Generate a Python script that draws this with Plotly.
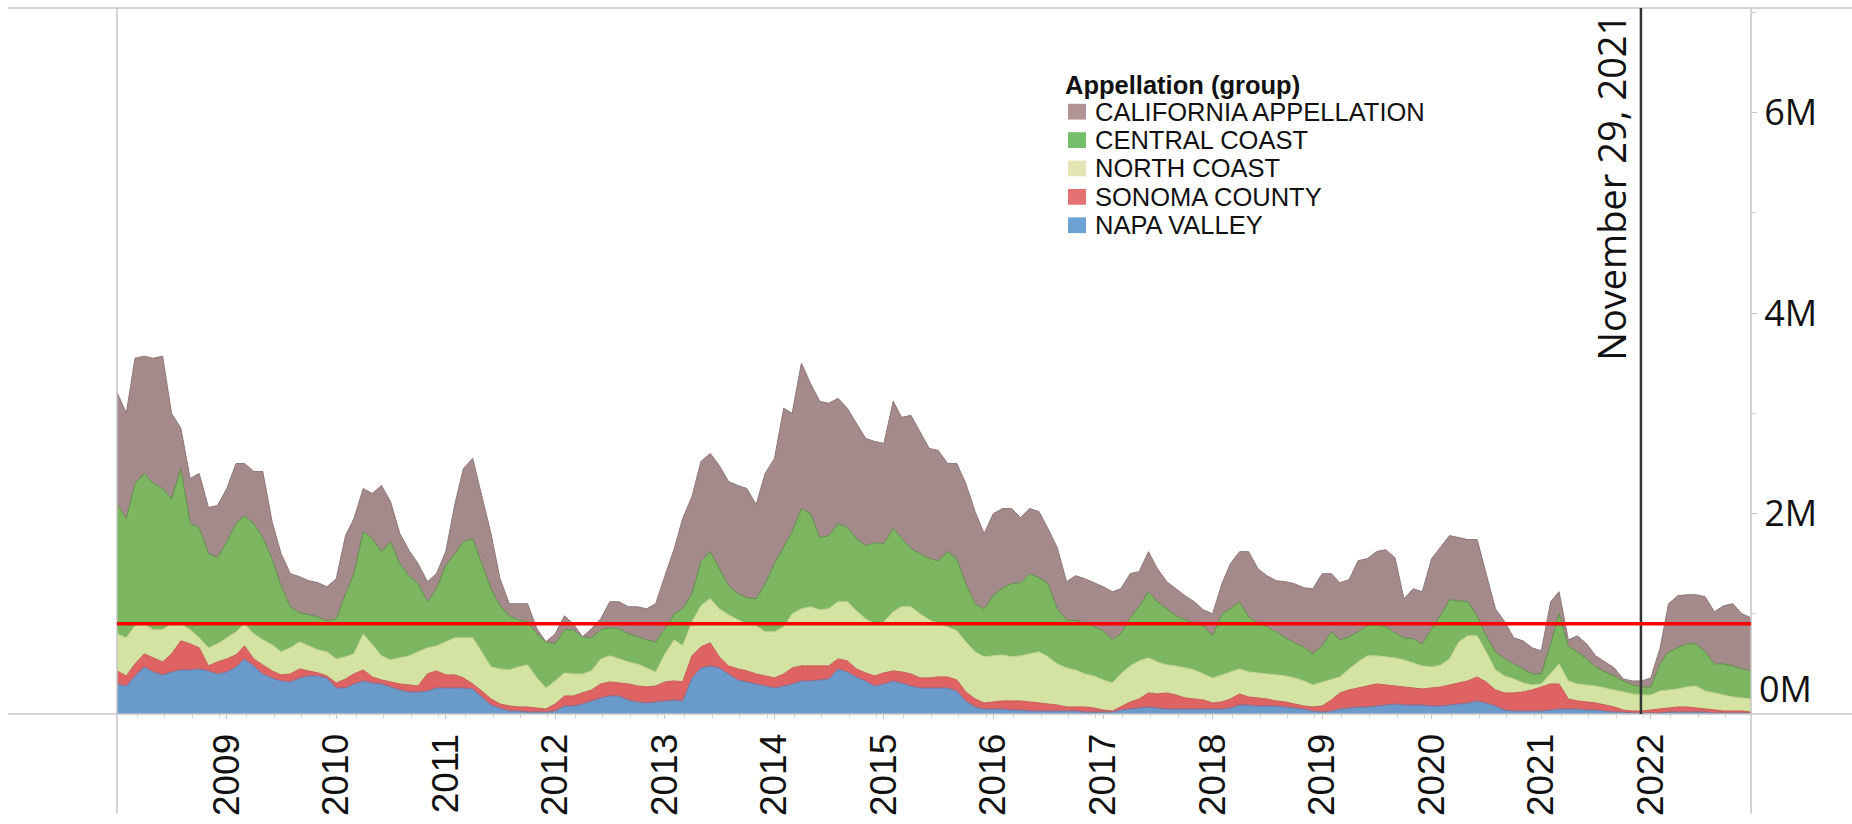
import plotly.graph_objects as go
import pandas as pd

# ---------------- data (millions, monthly, Jan 2008 .. Dec 2022) ----------------
months = pd.date_range("2008-01-01", periods=180, freq="MS")

series_names = ["NAPA VALLEY", "SONOMA COUNTY", "NORTH COAST",
                "CENTRAL COAST", "CALIFORNIA APPELLATION"]

# stacked levels (top edge of each band), bottom -> top
napa_top = [
    0.30, 0.28, 0.38, 0.47, 0.42, 0.39, 0.42, 0.44, 0.44, 0.45,
    0.43, 0.40, 0.42, 0.47, 0.55, 0.48, 0.40, 0.36, 0.33, 0.32,
    0.36, 0.38, 0.38, 0.36, 0.26, 0.26, 0.30, 0.33, 0.31, 0.30,
    0.27, 0.24, 0.22, 0.22, 0.23, 0.26, 0.26, 0.26, 0.26, 0.25,
    0.17, 0.09, 0.06, 0.03, 0.03, 0.02, 0.02, 0.02, 0.03, 0.08,
    0.08, 0.10, 0.13, 0.16, 0.18, 0.18,
    0.14, 0.12, 0.11, 0.12,
    0.13, 0.14, 0.13, 0.36, 0.46, 0.48, 0.46, 0.40, 0.34, 0.32,
    0.30, 0.28, 0.26, 0.28, 0.30, 0.33, 0.33, 0.34, 0.35, 0.45,
    0.42, 0.37, 0.33, 0.28, 0.30, 0.33, 0.31, 0.28, 0.26, 0.26,
    0.26, 0.26, 0.23, 0.13, 0.07, 0.05, 0.05, 0.05, 0.04, 0.04,
    0.03, 0.03, 0.03, 0.03, 0.03, 0.03, 0.02, 0.02, 0.02, 0.02,
    0.04, 0.05, 0.06, 0.07, 0.06, 0.05, 0.05, 0.05, 0.05, 0.05,
    0.05, 0.05, 0.06, 0.09, 0.09, 0.08, 0.08, 0.08, 0.07, 0.06,
    0.05, 0.03, 0.02, 0.03, 0.05, 0.06, 0.07, 0.07, 0.08, 0.09,
    0.10, 0.09, 0.09, 0.09, 0.08, 0.08, 0.09, 0.10, 0.11, 0.13,
    0.11, 0.08, 0.04, 0.03, 0.03, 0.03, 0.03, 0.04, 0.05, 0.05,
    0.05, 0.04, 0.04, 0.03, 0.02, 0.02, 0.01, 0.01, 0.01, 0.01,
    0.02, 0.02, 0.02, 0.02, 0.02, 0.01, 0.01, 0.01, 0.01, 0.01,
]
sonoma_top = [
    0.43, 0.38, 0.50, 0.60, 0.56, 0.52, 0.60, 0.73, 0.70, 0.66,
    0.48, 0.52, 0.55, 0.59, 0.68, 0.55, 0.49, 0.43, 0.39, 0.40,
    0.45, 0.43, 0.41, 0.38, 0.31, 0.35, 0.40, 0.44, 0.37, 0.34,
    0.32, 0.30, 0.29, 0.28, 0.40, 0.43, 0.39, 0.39, 0.36, 0.30,
    0.23, 0.15, 0.10, 0.08, 0.07, 0.07, 0.06, 0.05, 0.10, 0.18,
    0.18, 0.21, 0.24, 0.30, 0.32, 0.31,
    0.30, 0.28, 0.27, 0.28,
    0.32, 0.33, 0.32, 0.58, 0.67, 0.71, 0.57, 0.48, 0.45, 0.43,
    0.40, 0.38, 0.36, 0.40, 0.46, 0.48, 0.48, 0.48, 0.48, 0.55,
    0.53, 0.45, 0.41, 0.38, 0.41, 0.43, 0.42, 0.40, 0.36, 0.36,
    0.37, 0.37, 0.34, 0.22, 0.15, 0.11, 0.12, 0.13, 0.13, 0.13,
    0.12, 0.11, 0.10, 0.09, 0.07, 0.07, 0.07, 0.06, 0.04, 0.03,
    0.07, 0.12, 0.15, 0.21, 0.20, 0.21, 0.19, 0.16, 0.15, 0.14,
    0.11, 0.12, 0.15, 0.20, 0.17, 0.16, 0.15, 0.13, 0.12, 0.10,
    0.08, 0.07, 0.08, 0.14, 0.21, 0.24, 0.26, 0.28, 0.30, 0.29,
    0.28, 0.27, 0.26, 0.25, 0.26, 0.27, 0.29, 0.31, 0.33, 0.37,
    0.32, 0.24, 0.21, 0.21, 0.22, 0.24, 0.27, 0.30, 0.30, 0.15,
    0.13, 0.12, 0.11, 0.09, 0.07, 0.04, 0.03, 0.03, 0.04, 0.05,
    0.06, 0.07, 0.07, 0.06, 0.05, 0.04, 0.03, 0.03, 0.03, 0.02,
]
north_top = [
    0.80, 0.76, 0.88, 0.90, 0.84, 0.84, 0.90, 0.90, 0.84, 0.76,
    0.66, 0.70, 0.76, 0.82, 0.90, 0.80, 0.74, 0.69, 0.62, 0.66,
    0.72, 0.68, 0.64, 0.62, 0.55, 0.57, 0.60, 0.80, 0.69, 0.58,
    0.54, 0.56, 0.58, 0.62, 0.66, 0.68, 0.72, 0.76, 0.76, 0.76,
    0.62, 0.47, 0.45, 0.44, 0.47, 0.49, 0.36, 0.26, 0.33, 0.41,
    0.40, 0.40, 0.43, 0.55, 0.58, 0.55,
    0.52, 0.50, 0.46, 0.42,
    0.60, 0.74, 0.68, 0.92, 1.08, 1.15, 1.05, 0.99, 0.94, 0.90,
    0.88, 0.82, 0.82, 0.87, 1.00, 1.05, 1.07, 1.04, 1.05, 1.12,
    1.12, 1.03, 0.95, 0.90, 0.92, 1.02, 1.07, 1.07, 1.00, 0.94,
    0.90, 0.87, 0.83, 0.72, 0.62, 0.57, 0.58, 0.59, 0.57, 0.58,
    0.60, 0.62, 0.57, 0.50, 0.46, 0.44, 0.40, 0.38, 0.34, 0.31,
    0.40, 0.48, 0.53, 0.56, 0.52, 0.49, 0.48, 0.46, 0.44, 0.40,
    0.36, 0.39, 0.42, 0.45, 0.42, 0.41, 0.40, 0.39, 0.38, 0.36,
    0.33, 0.29, 0.32, 0.35, 0.37, 0.45, 0.52, 0.58, 0.58, 0.57,
    0.56, 0.54, 0.51, 0.48, 0.47, 0.49, 0.55, 0.72, 0.78, 0.78,
    0.62, 0.44, 0.38, 0.35, 0.31, 0.29, 0.30, 0.40, 0.50, 0.33,
    0.30, 0.29, 0.28, 0.26, 0.24, 0.22, 0.20, 0.19, 0.19, 0.23,
    0.24, 0.25, 0.27, 0.28, 0.23, 0.21, 0.19, 0.17, 0.16, 0.15,
]
central_top = [
    2.10, 1.95, 2.30, 2.40, 2.30, 2.25, 2.15, 2.45, 1.90, 1.86,
    1.60, 1.56, 1.72, 1.90, 1.98, 1.90, 1.76, 1.55, 1.28, 1.07,
    1.01, 0.99, 0.97, 0.93, 0.95, 1.20, 1.40, 1.82, 1.75, 1.62,
    1.72, 1.50, 1.38, 1.30, 1.12, 1.25, 1.48, 1.60, 1.72, 1.75,
    1.50, 1.25, 1.08, 0.98, 0.94, 0.92, 0.80, 0.72, 0.70, 0.84,
    0.84, 0.77, 0.76, 0.84, 0.86, 0.85,
    0.80, 0.77, 0.74, 0.72,
    0.85, 1.00, 1.05, 1.20, 1.52, 1.62, 1.45, 1.28, 1.20, 1.16,
    1.15, 1.30, 1.50, 1.67, 1.82, 2.05, 2.00, 1.76, 1.78, 1.90,
    1.86, 1.75, 1.68, 1.71, 1.70, 1.85, 1.75, 1.65, 1.60, 1.55,
    1.53, 1.62, 1.55, 1.30, 1.10, 1.05, 1.18, 1.26, 1.30, 1.31,
    1.40, 1.36, 1.30, 1.05, 0.94, 0.93, 0.91, 0.87, 0.83, 0.74,
    0.80, 0.96, 1.07, 1.22, 1.12, 1.05, 0.98, 0.94, 0.91, 0.88,
    0.78, 1.00, 1.05, 1.12, 0.97, 0.91, 0.87, 0.82, 0.76, 0.71,
    0.67, 0.60, 0.68, 0.82, 0.74, 0.77, 0.82, 0.88, 0.89, 0.87,
    0.81, 0.76, 0.75, 0.70, 0.85, 0.99, 1.14, 1.13, 1.12, 0.98,
    0.78, 0.62, 0.55, 0.50, 0.45, 0.40, 0.40, 0.70, 1.00, 0.68,
    0.62, 0.55, 0.47, 0.42, 0.38, 0.33, 0.29, 0.27, 0.27, 0.50,
    0.62, 0.66, 0.70, 0.70, 0.62, 0.50, 0.50, 0.48, 0.45, 0.43,
]
california_top = [
    3.21, 3.00, 3.55, 3.57, 3.55, 3.57, 3.00, 2.85, 2.35, 2.40,
    2.06, 2.08, 2.25, 2.50, 2.50, 2.42, 2.42, 1.92, 1.60, 1.40,
    1.37, 1.33, 1.31, 1.27, 1.35, 1.78, 1.95, 2.25, 2.20, 2.28,
    2.12, 1.80, 1.63, 1.50, 1.32, 1.40, 1.62, 2.10, 2.45, 2.55,
    2.18, 1.80, 1.35, 1.10, 1.10, 1.10, 0.85, 0.70, 0.80, 0.98,
    0.90, 0.77, 0.85, 0.95, 1.12, 1.12,
    1.07, 1.07, 1.05, 1.10,
    1.38, 1.65, 1.95, 2.17, 2.52, 2.60, 2.48, 2.32, 2.28, 2.25,
    2.09, 2.40, 2.55, 3.05, 3.00, 3.50, 3.30, 3.12, 3.10, 3.15,
    3.05, 2.90, 2.75, 2.72, 2.70, 3.12, 2.96, 2.98, 2.82, 2.65,
    2.63, 2.50, 2.50, 2.30, 2.02, 1.80, 2.00, 2.05, 2.05, 1.96,
    2.05, 2.02, 1.85, 1.66, 1.32, 1.38, 1.35, 1.31, 1.27, 1.22,
    1.25, 1.40, 1.42, 1.62, 1.45, 1.32, 1.25, 1.18, 1.12, 1.04,
    1.00, 1.30, 1.50, 1.62, 1.62, 1.45, 1.38, 1.33, 1.32, 1.30,
    1.26, 1.25, 1.40, 1.40, 1.31, 1.34, 1.53, 1.55, 1.62, 1.64,
    1.56, 1.15, 1.25, 1.22, 1.55, 1.67, 1.78, 1.76, 1.74, 1.74,
    1.40, 1.05, 0.92, 0.76, 0.73, 0.66, 0.63, 1.12, 1.22, 0.74,
    0.78, 0.70, 0.58, 0.52, 0.46, 0.35, 0.33, 0.33, 0.36, 0.66,
    1.10, 1.18, 1.19, 1.19, 1.17, 1.02, 1.08, 1.10, 1.00, 0.96,
]

year_labels = [str(y) for y in range(2009, 2023)]
y_tick_values = [2, 4, 6]
y_tick_text = ["2M", "4M", "6M"]
y_minor_values = [1, 3, 5, 7]
reference_level = 0.9
marker_date = "2021-11-29"
marker_label = "November 29, 2021"
legend_title = "Appellation (group)"

# ---------------- styles ----------------
fill_colors = ["#6A9AC9", "#E06363", "#D4E3A1", "#7DB660", "#A48A8A"]
line_colors = ["#7D6F96", "#C85656", "#C2D191", "#5F8D4B", "#8F7777"]
legend_colors = {"CALIFORNIA APPELLATION": "#B29494", "CENTRAL COAST": "#74BE6C",
                 "NORTH COAST": "#E4E5B4", "SONOMA COUNTY": "#E57272",
                 "NAPA VALLEY": "#6DA3D4"}

W, H = 1852, 824
PL, PR, PT, PB = 117, 1751, 8, 723


def px_x(px):
    return (px - PL) / (PR - PL)


def px_y(py):
    return (PB - py) / (PB - PT)


# series values derived from the stacked levels
levels = [napa_top, sonoma_top, north_top, central_top, california_top]
fig = go.Figure()
prev = [0.0] * len(months)
for name, lvl, fc, lc in zip(series_names, levels, fill_colors, line_colors):
    vals = [max(round(a - b, 4), 0.0) for a, b in zip(lvl, prev)]
    prev = lvl
    fig.add_trace(go.Scatter(
        x=months, y=vals, name=name, stackgroup="one", mode="lines",
        line=dict(color=lc, width=1), fillcolor=fc, showlegend=False,
    ))

gray = "#C4C4C4"
shapes = [
    dict(type="line", xref="paper", yref="paper", x0=px_x(8), x1=px_x(W),
         y0=px_y(PT), y1=px_y(PT), line=dict(color=gray, width=1.5)),
    dict(type="line", xref="paper", yref="paper", x0=px_x(8), x1=px_x(W),
         y0=0, y1=0, line=dict(color=gray, width=1.5)),
    dict(type="line", xref="paper", yref="paper", x0=0, x1=0,
         y0=px_y(H), y1=px_y(PT), line=dict(color=gray, width=1.5)),
    dict(type="line", xref="paper", yref="paper", x0=1, x1=1,
         y0=px_y(H), y1=px_y(PT), line=dict(color=gray, width=1.5)),
    dict(type="line", xref="x", yref="paper", x0=marker_date, x1=marker_date,
         y0=0, y1=1, line=dict(color="#333333", width=2.5)),
    dict(type="line", xref="paper", yref="y", x0=0, x1=1,
         y0=reference_level, y1=reference_level, line=dict(color="#FF0000", width=3.5)),
]

annotations = [
    dict(text=marker_label, xref="paper", yref="paper", x=px_x(1611), y=px_y(190),
         textangle=-90, showarrow=False, xanchor="center", yanchor="middle",
         font=dict(family="Open Sans", size=38, color="#111111")),
    dict(text="0M", xref="paper", yref="paper", x=px_x(1757), y=px_y(697),
         showarrow=False, xanchor="left", yanchor="middle",
         font=dict(family="Open Sans", size=36, color="#111111")),
    dict(text="<b>" + legend_title + "</b>", xref="paper", yref="paper",
         x=px_x(1063), y=px_y(86), showarrow=False, xanchor="left", yanchor="middle",
         font=dict(family="Liberation Sans, Arial", size=25.5, color="#111111")),
]

legend_order = ["CALIFORNIA APPELLATION", "CENTRAL COAST", "NORTH COAST",
                "SONOMA COUNTY", "NAPA VALLEY"]
for i, nm in enumerate(legend_order):
    cy = 113 + i * 28.75
    shapes.append(dict(type="rect", xref="paper", yref="paper",
                       x0=px_x(1068), x1=px_x(1086), y0=px_y(cy + 8), y1=px_y(cy - 8),
                       fillcolor=legend_colors[nm], line=dict(width=0)))
    annotations.append(dict(text=nm, xref="paper", yref="paper", x=px_x(1093), y=px_y(cy),
                            showarrow=False, xanchor="left", yanchor="middle",
                            font=dict(family="Liberation Sans, Arial", size=25.5, color="#111111")))

fig.update_layout(
    width=W, height=H,
    margin=dict(l=PL, r=W - PR, t=PT, b=H - PB),
    paper_bgcolor="white", plot_bgcolor="white",
    showlegend=False,
    shapes=shapes, annotations=annotations,
    xaxis=dict(
        type="date", range=["2008-01-01", "2022-12-01"],
        tickmode="array", tickvals=[f"{y}-01-01" for y in year_labels], ticktext=year_labels,
        tickangle=-90, tickfont=dict(family="Liberation Sans, Arial", size=37, color="#111111"),
        ticks="outside", ticklen=4, tickcolor=gray, showgrid=False, zeroline=False, showline=False,
        minor=dict(ticks="outside", ticklen=3, tickcolor="#D0D0D0", dtick="M3", tick0="2008-03-08"),
    ),
    yaxis=dict(
        side="right", range=[0, (PB - PT) / 101.5],
        tickmode="array", tickvals=y_tick_values, ticktext=y_tick_text,
        tickfont=dict(family="Open Sans", size=36, color="#111111"),
        ticks="outside", ticklen=5, tickcolor=gray, showgrid=False, zeroline=False, showline=False,
        minor=dict(ticks="outside", ticklen=4, tickcolor="#D0D0D0", tickmode="array",
                   tickvals=y_minor_values),
    ),
)

fig.write_html("out.html",
               config={"displayModeBar": False},
               post_script="document.body.style.margin='0px';document.body.style.overflow='hidden';")
